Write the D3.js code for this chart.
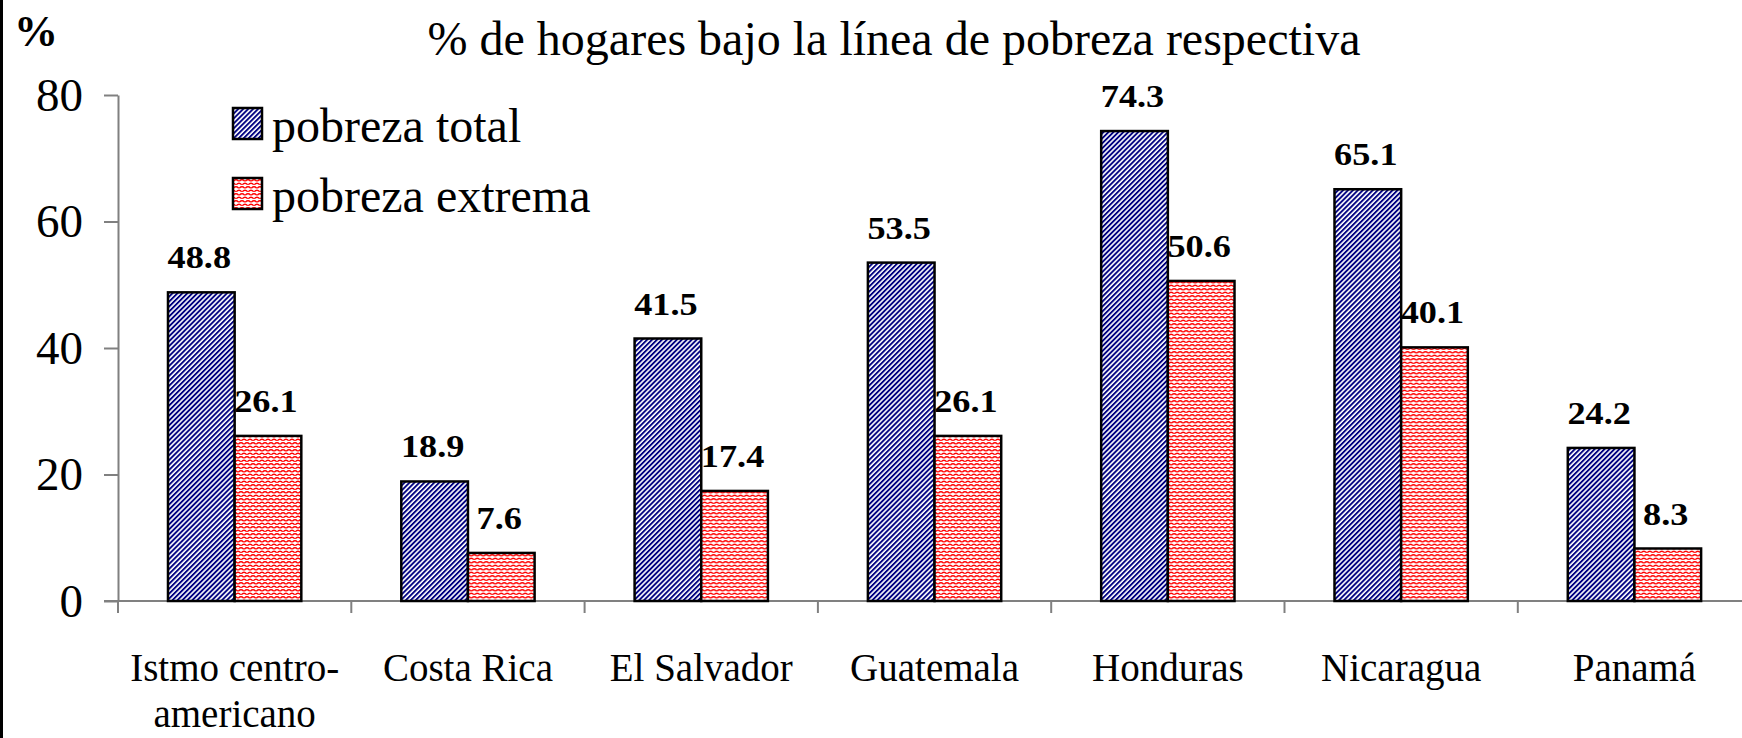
<!DOCTYPE html>
<html>
<head>
<meta charset="utf-8">
<script src="https://cdn.jsdelivr.net/npm/d3@7"></script>
<style>
body { margin: 0; background: #fff; }
text { font-family: "Liberation Serif", "Times New Roman", serif; fill: #000; }
</style>
</head>
<body>
<svg id="chart" width="1742" height="738"></svg>
<script>
// data
var categories = ["Istmo centro-\namericano", "Costa Rica", "El Salvador", "Guatemala", "Honduras", "Nicaragua", "Panamá"];
var pobrezaTotal   = [48.8, 18.9, 41.5, 53.5, 74.3, 65.1, 24.2];
var pobrezaExtrema = [26.1, 7.6, 17.4, 26.1, 50.6, 40.1, 8.3];
var seriesNames = ["pobreza total", "pobreza extrema"];
var yTicks = [0, 20, 40, 60, 80];
var subtitle = "% de hogares bajo la línea de pobreza respectiva";

var svg = d3.select("#chart");
var W = 1742, H = 738;

var left = 118, catW = 233.3;
var x0 = d3.scaleBand().domain(categories).range([left, left + catW * categories.length]).paddingInner(0).paddingOuter(0);
var x1 = d3.scaleBand().domain(seriesNames).range([0, x0.bandwidth()]).paddingInner(0).paddingOuter(0.75);
var y = d3.scaleLinear().domain([0, 80]).range([601, 95]);

// fill patterns
var defs = svg.append("defs");
var diag = defs.append("pattern").attr("id", "diag")
    .attr("patternUnits", "userSpaceOnUse").attr("width", 3.5).attr("height", 3.5)
    .attr("patternTransform", "rotate(45)");
diag.append("rect").attr("width", 3.5).attr("height", 3.5).attr("fill", "#fff");
diag.append("rect").attr("width", 1.9).attr("height", 3.5).attr("fill", "#000080");

var wave = defs.append("pattern").attr("id", "wave")
    .attr("patternUnits", "userSpaceOnUse").attr("width", 6).attr("height", 7);
wave.append("rect").attr("width", 6).attr("height", 7).attr("fill", "#fff");
wave.append("path")
    .attr("d", "M0.3,3.2 Q3,0.2 5.7,3.2 M-2.7,6.7 Q0,3.7 2.7,6.7 M3.3,6.7 Q6,3.7 8.7,6.7")
    .attr("fill", "none").attr("stroke", "#ff0000").attr("stroke-width", 1.4);

var fills = {"pobreza total": "url(#diag)", "pobreza extrema": "url(#wave)"};

// left frame edge
svg.append("rect").attr("x", 0).attr("y", 0).attr("width", 3).attr("height", H).attr("fill", "#000");

// "%" unit label and subtitle
svg.append("text").attr("x", 14).attr("y", 46)
    .attr("font-size", 44).attr("font-weight", "bold").text("%");
svg.append("text").attr("x", 894).attr("y", 55).attr("text-anchor", "middle")
    .attr("font-size", 48).text(subtitle);

// y axis
var yAxis = svg.append("g").attr("transform", "translate(" + left + ",0)")
    .call(d3.axisLeft(y).tickValues(yTicks).tickSize(14).tickSizeOuter(0).tickPadding(21));
yAxis.select(".domain").attr("stroke", "#808080").attr("stroke-width", 2);
yAxis.selectAll(".tick line").attr("stroke", "#808080").attr("stroke-width", 2);
yAxis.selectAll(".tick text").attr("font-size", 47).attr("font-family", "Liberation Serif").attr("fill", "#000");

// x axis line and category ticks
svg.append("line").attr("x1", left - 14).attr("x2", W).attr("y1", y(0)).attr("y2", y(0))
    .attr("stroke", "#808080").attr("stroke-width", 2);
var bounds = categories.map(function(c) { return x0(c); }).concat([x0.range()[1]]);
svg.append("g").selectAll("line").data(bounds).enter().append("line")
    .attr("x1", function(d) { return d; }).attr("x2", function(d) { return d; })
    .attr("y1", y(0)).attr("y2", y(0) + 12)
    .attr("stroke", "#808080").attr("stroke-width", 2);

// category labels
var xl = svg.append("g").selectAll("text").data(categories).enter().append("text")
    .attr("text-anchor", "middle").attr("font-size", 39)
    .attr("x", function(d) { return x0(d) + x0.bandwidth() / 2; })
    .attr("y", 681);
xl.each(function(d) {
  var t = d3.select(this);
  d.split("\n").forEach(function(line, i) {
    t.append("tspan").attr("x", x0(d) + x0.bandwidth() / 2).attr("dy", i ? 46 : 0).text(line);
  });
});

// bars
var rows = categories.map(function(c, i) {
  return {cat: c, vals: [{s: seriesNames[0], v: pobrezaTotal[i]}, {s: seriesNames[1], v: pobrezaExtrema[i]}]};
});
var grp = svg.append("g").selectAll("g").data(rows).enter().append("g")
    .attr("transform", function(d) { return "translate(" + x0(d.cat) + ",0)"; });

grp.selectAll("rect").data(function(d) { return d.vals; }).enter().append("rect")
    .attr("x", function(d) { return x1(d.s); })
    .attr("width", x1.bandwidth())
    .attr("y", function(d) { return y(d.v); })
    .attr("height", function(d) { return y(0) - y(d.v); })
    .attr("fill", function(d) { return fills[d.s]; })
    .attr("stroke", "#000").attr("stroke-width", 2.5);

// value labels are drawn a bit wider than the font, like the original
var vl = grp.selectAll("text").data(function(d) { return d.vals; }).enter().append("text")
    .attr("text-anchor", "middle").attr("font-size", 31).attr("font-weight", "bold")
    .attr("x", function(d) { return x1(d.s) + x1.bandwidth() / 2 - 2; })
    .attr("y", function(d) { return y(d.v) - 24; })
    .text(function(d) { return d.v.toFixed(1); });
vl.each(function() {
  var len = this.getComputedTextLength();
  d3.select(this).attr("textLength", len * 1.17).attr("lengthAdjust", "spacingAndGlyphs");
});

// legend
var leg = svg.append("g").selectAll("g").data(seriesNames).enter().append("g")
    .attr("transform", function(d, i) { return "translate(233," + (108 + i * 70) + ")"; });
leg.append("rect").attr("width", 29).attr("height", 31)
    .attr("fill", function(d) { return fills[d]; })
    .attr("stroke", "#000").attr("stroke-width", 2.5);
leg.append("text").attr("x", 39).attr("y", 34).attr("font-size", 48)
    .text(function(d) { return d; });
</script>
</body>
</html>
